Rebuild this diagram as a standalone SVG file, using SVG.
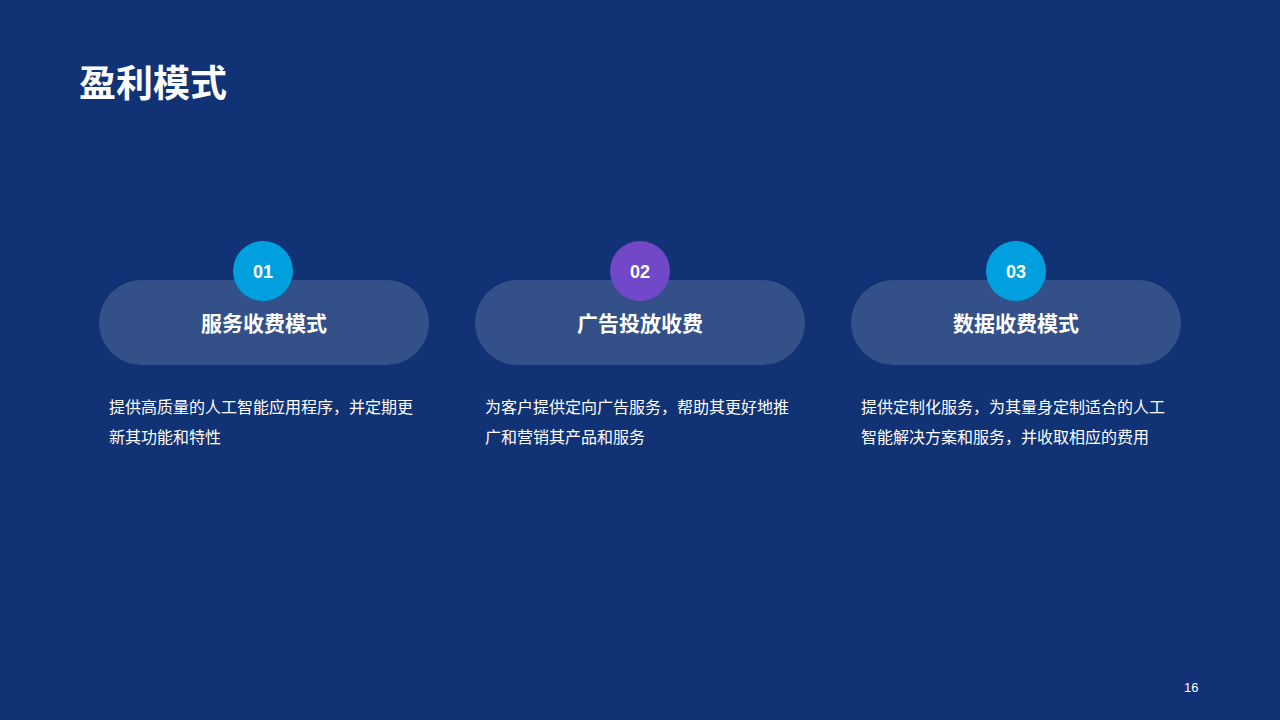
<svg xmlns="http://www.w3.org/2000/svg" width="1280" height="720" viewBox="0 0 1280 720">
<style>
.cjk{font-family:"Liberation Sans","Noto Sans CJK SC",sans-serif;}
.title{font-size:37px;font-weight:bold;fill:#ffffff;}
.pill{fill:#ffffff;fill-opacity:0.15;}
.num{font-size:18px;font-weight:bold;fill:#ffffff;text-anchor:middle;}
.head{font-size:21px;font-weight:bold;fill:#ffffff;text-anchor:middle;}
.desc{font-size:16px;fill:#ffffff;}
.pg{font-size:13px;fill:#ffffff;}
</style>
<rect width="1280" height="720" fill="#113274"/>
<text class="cjk title" x="79" y="97">盈利模式</text>
<g id="node1">
<rect class="pill" x="99" y="280" width="330" height="85" rx="42.5"/>
<circle cx="263" cy="271" r="30" fill="#009fdd"/>
<text class="cjk num" x="263" y="278">01</text>
<text class="cjk head" x="264" y="331">服务收费模式</text>
<text class="cjk desc" x="109" y="413">提供高质量的人工智能应用程序，并定期更</text>
<text class="cjk desc" x="109" y="443">新其功能和特性</text>
</g>
<g id="node2">
<rect class="pill" x="475" y="280" width="330" height="85" rx="42.5"/>
<circle cx="640" cy="271" r="30" fill="#7048c8"/>
<text class="cjk num" x="640" y="278">02</text>
<text class="cjk head" x="640" y="331">广告投放收费</text>
<text class="cjk desc" x="485" y="413">为客户提供定向广告服务，帮助其更好地推</text>
<text class="cjk desc" x="485" y="443">广和营销其产品和服务</text>
</g>
<g id="node3">
<rect class="pill" x="851" y="280" width="330" height="85" rx="42.5"/>
<circle cx="1016" cy="271" r="30" fill="#009fdd"/>
<text class="cjk num" x="1016" y="278">03</text>
<text class="cjk head" x="1016" y="331">数据收费模式</text>
<text class="cjk desc" x="861" y="413">提供定制化服务，为其量身定制适合的人工</text>
<text class="cjk desc" x="861" y="443">智能解决方案和服务，并收取相应的费用</text>
</g>
<g id="connectors"></g>
<text class="cjk pg" x="1184" y="692">16</text>
</svg>
